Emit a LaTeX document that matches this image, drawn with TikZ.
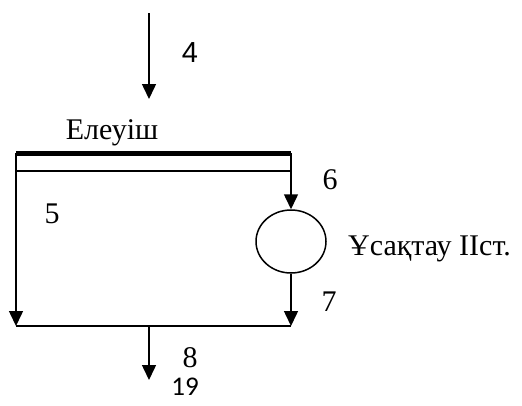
\documentclass[tikz,border=0pt]{standalone}
\usepackage{fontspec}
\setmainfont{Liberation Serif}
\newfontfamily\arialf{Liberation Sans}
\newfontfamily\calibrif{Carlito}
\usetikzlibrary{arrows.meta,shapes.geometric}
\begin{document}
\begin{tikzpicture}[x=1pt,y=-1pt,
  flow/.style={line width=1.5pt,-{Triangle[width=14pt,length=15pt]}},
  wire/.style={line width=1.5pt},
  lbl/.style={inner sep=0pt,font=\fontsize{30}{32}\selectfont},
  lbs/.style={inner sep=0pt,font=\arialf\fontsize{29}{31}\selectfont},
  lbc/.style={inner sep=0pt,font=\calibrif\fontsize{27}{29}\selectfont}]
\useasboundingbox (0,0) rectangle (522,405);
\coordinate (in0) at (149,13);
\coordinate (in1) at (149,99);
\coordinate (tl) at (16,153);
\coordinate (tr) at (291,153);
\coordinate (ml) at (16,171);
\coordinate (mr) at (291,171);
\coordinate (bl) at (16,326);
\coordinate (br) at (291,326);
\coordinate (bm) at (149,326);
\coordinate (out) at (149,380);
\node[draw,line width=1.5pt,ellipse,minimum width=70pt,minimum height=63pt,inner sep=0pt] (sep) at (291,241.5) {};
\draw[flow] (in0) -- (in1);
\draw[line width=5pt] (tl) -- (tr);
\draw[wire] (ml) -- (mr);
\draw[flow] (tl) -- (bl);
\draw[flow] (tr) -- (sep.north);
\draw[flow] (sep.south) -- (br);
\draw[wire] (bl) -- (br);
\draw[flow] (bm) -- (out);
\node[lbs] (n4) at (190,52.5) {4};
\node[lbl,anchor=base] (t1) at (112,139) {Елеуіш};
\node[lbl] (n6) at (330,180) {6};
\node[lbl] (n5) at (52,213.5) {5};
\node[lbl,anchor=base west] (t2) at (348,255) {Ұсақтау IIст.};
\node[lbl] (n7) at (329,302) {7};
\node[lbl] (n8) at (190,358) {8};
\node[lbc] (n19) at (185,387) {19};
\end{tikzpicture}
\end{document}
